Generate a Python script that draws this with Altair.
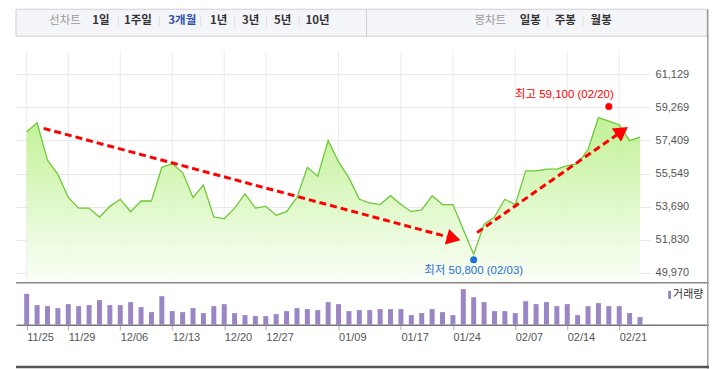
import altair as alt
import pandas as pd

# ---------------- data ----------------
dates = ["11/25", "11/26", "11/27", "11/28", "11/29", "12/02", "12/03", "12/04", "12/05", "12/06",
         "12/09", "12/10", "12/11", "12/12", "12/13", "12/16", "12/17", "12/18", "12/19", "12/20",
         "12/23", "12/24", "12/26", "12/27", "12/30", "01/02", "01/03", "01/06", "01/07", "01/08",
         "01/09", "01/10", "01/13", "01/14", "01/15", "01/16", "01/17", "01/20", "01/21", "01/22",
         "01/23", "01/24", "01/31", "02/03", "02/04", "02/05", "02/06", "02/07", "02/10", "02/11",
         "02/12", "02/13", "02/14", "02/17", "02/18", "02/19", "02/20", "02/21", "02/24", "02/25"]

closes = [57900, 58400, 56300, 55500, 54200, 53600, 53600, 53100, 53700, 54100,
          53400, 54000, 54000, 55900, 56100, 55600, 54200, 54900, 53100, 53000,
          53600, 54400, 53600, 53700, 53200, 53400, 54200, 55900, 55400, 57400,
          56200, 55300, 54100, 53900, 53800, 54300, 53800, 53400, 53500, 54300,
          53800, 53800, 52400, 51000, 52700, 53100, 54100, 53800, 55700, 55700,
          55800, 55800, 56000, 56100, 56900, 58700, 58500, 58300, 57400, 57600]

# volume (millions of shares, estimated)
volumes = [31.0, 19.7, 18.7, 16.7, 20.7, 18.7, 19.7, 24.7, 19.7, 19.7,
           22.7, 17.7, 12.7, 28.7, 13.7, 12.7, 16.7, 11.7, 18.7, 20.7,
           11.7, 9.7, 8.7, 8.7, 10.7, 13.7, 16.7, 15.7, 14.7, 22.7,
           20.7, 13.7, 14.7, 14.7, 15.7, 15.7, 15.7, 9.7, 11.7, 15.7,
           12.7, 9.7, 35.7, 27.7, 22.7, 13.7, 13.7, 11.7, 23.7, 20.7,
           22.7, 18.7, 20.7, 9.7, 18.7, 21.7, 18.7, 18.7, 11.7, 7.7]

y_ticks = [49970, 51830, 53690, 55549, 57409, 59269, 61129]
x_tick_idx = [0, 4, 9, 14, 19, 23, 30, 36, 41, 47, 52, 57]

high_idx, high_val = 56, 59100
low_idx, low_val = 43, 50800

# trend arrows (start / end in day-index and price)
arrow_id = ["down", "down", "up", "up"]
arrow_i = [1.63, 41.08, 43.32, 57.28]
arrow_p = [58092, 51887, 52219, 57940]
head_i = [41.08, 57.28]
head_p = [51887, 57940]
head_angle = [15, 325]

tabs_left = ["선차트", "1일", "1주일", "3개월", "1년", "3년", "5년", "10년"]
tabs_right = ["봉차트", "일봉", "주봉", "월봉"]

# ---------------- frames ----------------
df = pd.DataFrame({"i": list(range(len(closes))), "date": dates, "close": closes, "vol": volumes})
ticks_df = pd.DataFrame({"i": x_tick_idx})
arrows_df = pd.DataFrame({"arrow": arrow_id, "i": arrow_i, "p": arrow_p})
heads_df = pd.DataFrame({"i": head_i, "p": head_p, "ang": head_angle})
hi_df = pd.DataFrame({"i": [high_idx], "p": [high_val],
                      "label": [f"최고 {high_val:,} ({dates[high_idx]})"]})
lo_df = pd.DataFrame({"i": [low_idx], "p": [low_val],
                      "label": [f"최저 {low_val:,} ({dates[low_idx]})"]})
one = pd.DataFrame({"k": [0]})

FONT = "'Liberation Sans', 'Noto Sans CJK KR', sans-serif"
KFONT = "'Noto Sans CJK KR', sans-serif"

W_PRICE, W_FULL = 635, 694
H_TAB, H_PRICE, H_VOL = 27, 245, 42
X_MIN, PX_DAY = -1.03, 10.41
P_LO, P_HI = 49446, 63227
FRAME_COLOR = "#9f9f9f"

px_scale = alt.Scale(domain=[X_MIN, X_MIN + W_PRICE / PX_DAY], nice=False, zero=False, padding=0)
vx_scale = alt.Scale(domain=[X_MIN, X_MIN + W_FULL / PX_DAY], nice=False, zero=False, padding=0)
py_scale = alt.Scale(domain=[P_LO, P_HI], nice=False, zero=False, padding=0)
py_axis = alt.Axis(orient="right", values=y_ticks, format=",d", grid=True,
                   gridColor="#e8e8e8", ticks=False, domain=False, labelPadding=5,
                   labelFont=FONT, labelFontSize=11, labelColor="#555555", title=None)

X = lambda f="i": alt.X(f"{f}:Q", scale=px_scale, axis=None)
Y = lambda f="p": alt.Y(f"{f}:Q", scale=py_scale, axis=py_axis)


def frame_edge(y0, y1):
    """right-hand frame line of the widget, as a thin rect"""
    return alt.Chart(one).mark_rect(fill=FRAME_COLOR, clip=False).encode(
        x=alt.value(W_FULL - 2), x2=alt.value(W_FULL - 0.5), y=alt.value(y0), y2=alt.value(y1))


# ---------------- tab bar ----------------
# centres in page px minus the 15px panel origin
left_c = [49, 85, 122, 166.5, 203, 235, 267, 302]
right_c = [475, 515, 550, 586]
tab_rows = []
for k, (t, x) in enumerate(zip(tabs_left, left_c)):
    color = "#999999" if k == 0 else ("#2f4fa8" if t == "3개월" else "#333333")
    tab_rows.append({"t": t, "x": x, "c": color, "w": "normal" if k == 0 else "bold"})
for k, (t, x) in enumerate(zip(tabs_right, right_c)):
    color = "#999999" if k == 0 else "#333333"
    tab_rows.append({"t": t, "x": x, "c": color, "w": "normal" if k == 0 else "bold"})
tab_df = pd.DataFrame(tab_rows)
sep_df = pd.DataFrame({"x": [102.5, 143.5, 185, 219, 251, 283.5, 532.5, 568]})

tx = alt.Scale(domain=[0, W_FULL], nice=False, zero=False)
tab_text_n = alt.Chart(tab_df[tab_df.w == "normal"]).mark_text(
    align="center", baseline="middle", font=KFONT, fontSize=11.5).encode(
    x=alt.X("x:Q", scale=tx, axis=None), y=alt.value(11.5),
    text="t:N", color=alt.Color("c:N", scale=None))
tab_text_b = alt.Chart(tab_df[tab_df.w == "bold"]).mark_text(
    align="center", baseline="middle", font=KFONT, fontSize=11.5, fontWeight="bold").encode(
    x=alt.X("x:Q", scale=tx, axis=None), y=alt.value(11.5),
    text="t:N", color=alt.Color("c:N", scale=None))
tab_seps = alt.Chart(sep_df).mark_rule(color="#dddddd").encode(
    x=alt.X("x:Q", scale=tx, axis=None), y=alt.value(7), y2=alt.value(17))
tab_div = alt.Chart(pd.DataFrame({"x": [351]})).mark_rule(color="#cfd0d4").encode(
    x=alt.X("x:Q", scale=tx, axis=None), y=alt.value(0), y2=alt.value(H_TAB))
tab_bg = alt.Chart(one).mark_rect(fill="#f4f5f9", stroke="#cfd0d4", strokeWidth=1).encode(
    x=alt.value(0), x2=alt.value(W_FULL - 2), y=alt.value(0), y2=alt.value(H_TAB))
tab = alt.layer(tab_bg, tab_seps, tab_div, tab_text_n, tab_text_b,
                frame_edge(0, H_TAB + 1)).properties(width=W_FULL, height=H_TAB)

# ---------------- price panel ----------------
vgrid = alt.Chart(ticks_df).mark_rule(color="#ebebeb").encode(
    x=X(), y=alt.value(14), y2=alt.value(H_PRICE))

grad = alt.Gradient(gradient="linear",
                    stops=[alt.GradientStop(color="rgba(250,255,246,0.85)", offset=0),
                           alt.GradientStop(color="rgba(184,239,134,0.88)", offset=1)],
                    x1=1, x2=1, y1=1, y2=0)
area = alt.Chart(df).mark_area(color=grad).encode(
    x=X(), y=Y("close"), y2=alt.datum(P_LO))
line = alt.Chart(df).mark_line(color="#6cc936", strokeWidth=1.3).encode(x=X(), y=Y("close"))

arrows = alt.Chart(arrows_df).mark_line(color="#ff0000", strokeWidth=3, strokeDash=[7, 4]).encode(
    x=X(), y=Y(), detail="arrow:N")
heads = alt.Chart(heads_df).mark_point(shape="triangle-right", filled=True, size=260,
                                       color="#ff0000", opacity=1).encode(
    x=X(), y=Y(), angle=alt.Angle("ang:Q", scale=None))

hi_dot = alt.Chart(hi_df).mark_circle(size=50, color="#ff0000", opacity=1, yOffset=-4).encode(x=X(), y=Y())
lo_dot = alt.Chart(lo_df).mark_circle(size=50, color="#1f6fd6", opacity=1, yOffset=2).encode(x=X(), y=Y())
hi_txt = alt.Chart(hi_df).mark_text(align="right", baseline="middle", dx=5, dy=-15,
                                    font=FONT, fontSize=11.5, color="#ff0000").encode(
    x=X(), y=Y(), text="label:N")
lo_txt = alt.Chart(lo_df).mark_text(align="center", baseline="middle", dy=13,
                                    font=FONT, fontSize=11.5, color="#1f6fd6").encode(
    x=X(), y=Y(), text="label:N")

price = alt.layer(vgrid, area, line, arrows, heads, hi_dot, lo_dot, hi_txt, lo_txt,
                  frame_edge(-1, H_PRICE + 1)).properties(width=W_PRICE, height=H_PRICE)

# ---------------- volume panel ----------------
label_js = "[" + ",".join(f"'{d}'" for d in dates) + "][datum.value]"
bars = alt.Chart(df).mark_bar(size=5, color="#9a85c5").encode(
    x=alt.X("i:Q", scale=vx_scale,
            axis=alt.Axis(values=x_tick_idx, labelExpr=label_js, grid=False,
                          domainColor="#777777", domainWidth=1.5, tickColor="#aaaaaa",
                          tickSize=5, labelAlign="left", labelBaseline="top", labelPadding=2,
                          labelFont=FONT, labelFontSize=11, labelColor="#555555",
                          labelFlush=False, labelOverlap=False, title=None)),
    y=alt.Y("vol:Q", scale=alt.Scale(domain=[0, 42], nice=False, padding=0), axis=None))
top_line = alt.Chart(one).mark_rect(fill="#888888").encode(
    x=alt.value(0), x2=alt.value(W_FULL), y=alt.value(-0.75), y2=alt.value(0.75))
leg_sw = alt.Chart(one).mark_rect(color="#9a85c5").encode(
    x=alt.value(653), x2=alt.value(656), y=alt.value(8), y2=alt.value(16))
leg_tx = alt.Chart(pd.DataFrame({"t": ["거래량"]})).mark_text(
    align="left", baseline="middle", font=KFONT, fontSize=11, color="#333333").encode(
    x=alt.value(658), y=alt.value(12), text="t:N")
frame_b = alt.Chart(one).mark_rect(fill="#555555", clip=False).encode(
    x=alt.value(0), x2=alt.value(W_FULL), y=alt.value(83), y2=alt.value(85.5))

vol = alt.layer(top_line, bars, leg_sw, leg_tx, frame_edge(-1, 86), frame_b).properties(
    width=W_FULL, height=H_VOL)

chart = alt.vconcat(tab, price, vol, spacing=1, bounds="flush").properties(
    padding={"left": 7, "top": 0, "right": 0, "bottom": 0}
).configure_view(stroke=None)

chart.save("out.html", embed_options={"renderer": "svg", "actions": False})
